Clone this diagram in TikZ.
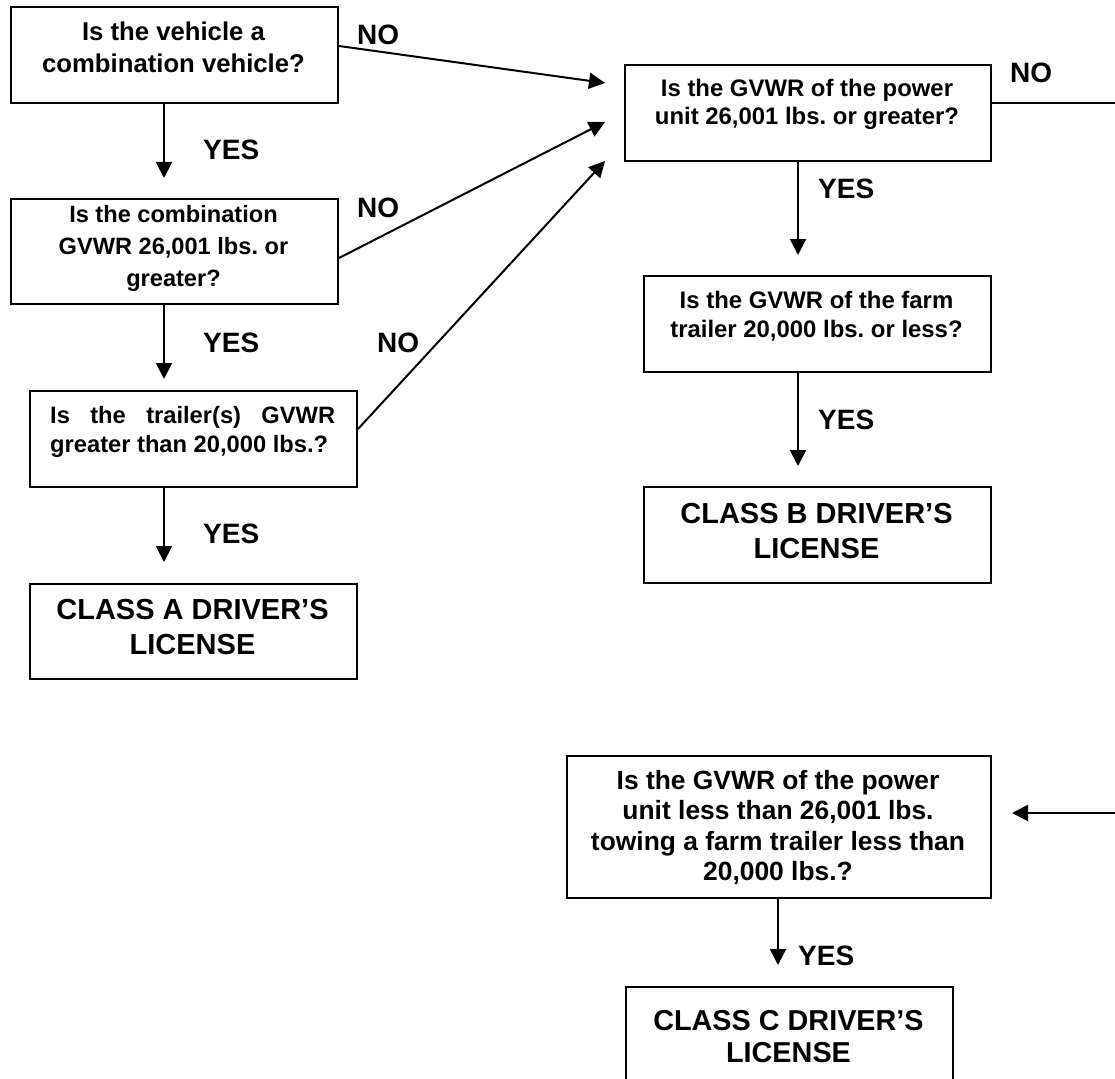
\documentclass[tikz,border=0pt]{standalone}
\usepackage{fontspec}
\setmainfont{Liberation Sans}
\usetikzlibrary{arrows.meta}
\begin{document}
\frenchspacing
\begin{tikzpicture}[x=1pt,y=-1pt,
  box/.style={draw, line width=2pt, inner sep=0pt, anchor=north west},
  txt/.style={inner sep=0pt, anchor=base, align=center},
  lbl/.style={inner sep=0pt, anchor=base west, font=\fontsize{28}{30}\selectfont\bfseries},
  arr/.style={line width=2pt, -{Triangle[length=16pt,width=16pt]}},
  ln/.style={line width=2pt}]
\clip (0,0) rectangle (1115,1078);
% boxes
\node[box, minimum width=327pt, minimum height=96pt]  (b1) at (10,6) {};
\node[box, minimum width=327pt, minimum height=105pt] (b2) at (10,198) {};
\node[box, minimum width=327pt, minimum height=96pt]  (b3) at (29,390) {};
\node[box, minimum width=327pt, minimum height=95pt]  (b4) at (29,583) {};
\node[box, minimum width=366pt, minimum height=96pt]  (b5) at (624,64) {};
\node[box, minimum width=347pt, minimum height=96pt]  (b6) at (643,275) {};
\node[box, minimum width=347pt, minimum height=96pt]  (b7) at (643,486) {};
\node[box, minimum width=424pt, minimum height=142pt] (b8) at (566,755) {};
\node[box, minimum width=327pt, minimum height=150pt] (b9) at (625,986) {};
% texts
\node[txt, font=\fontsize{25.7}{32}\selectfont\bfseries] (x1) at (173.5,73) {Is the vehicle a\\combination vehicle?};
\node[txt, font=\fontsize{23.6}{32}\selectfont\bfseries] (x2) at (173.5,286) {Is the combination\\GVWR 26,001 lbs. or\\greater?};
\node[txt, anchor=base west, align=left, font=\fontsize{23.7}{29}\selectfont\bfseries] (x3) at (50,452) {\makebox[285pt][s]{Is the trailer(s) GVWR}\\greater than 20,000 lbs.?};
\node[txt, font=\fontsize{29}{35}\selectfont\bfseries] (x4) at (192.5,654) {CLASS A DRIVER’S\\LICENSE};
\node[txt, font=\fontsize{23.9}{28}\selectfont\bfseries] (x5) at (807,125) {Is the GVWR of the power\\unit 26,001 lbs. or greater?};
\node[txt, font=\fontsize{23.9}{29}\selectfont\bfseries] (x6) at (816.5,337) {Is the GVWR of the farm\\trailer 20,000 lbs. or less?};
\node[txt, font=\fontsize{29}{35}\selectfont\bfseries] (x7) at (816.5,558) {CLASS B DRIVER’S\\LICENSE};
\node[txt, font=\fontsize{26.4}{30.5}\selectfont\bfseries] (x8) at (778,880.5) {Is the GVWR of the power\\unit less than 26,001 lbs.\\towing a farm trailer less than\\20,000 lbs.?};
\node[txt, font=\fontsize{28.8}{32}\selectfont\bfseries] (x9) at (788.5,1062) {CLASS C DRIVER’S\\LICENSE};
% helper coordinates
\coordinate (cL) at (164,0);
\coordinate (cR) at (798,0);
\coordinate (cC) at (778,0);
\coordinate (n1) at (605,83);
\coordinate (n2) at (605,122);
\coordinate (n3) at (605,161);
% vertical YES arrows
\draw[arr, shorten >=20pt] (b1.south -| cL) -- (b2.north -| cL);
\draw[arr, shorten >=11pt] (b2.south -| cL) -- (b3.north -| cL);
\draw[arr, shorten >=21pt] (b3.south -| cL) -- (b4.north -| cL);
\draw[arr, shorten >=20pt] (b5.south -| cR) -- (b6.north -| cR);
\draw[arr, shorten >=20pt] (b6.south -| cR) -- (b7.north -| cR);
\draw[arr, shorten >=21pt] (b8.south -| cC) -- (b9.north -| cC);
% NO arrows
\draw[arr] ([yshift=9pt]b1.east) -- (n1);
\draw[arr] ([yshift=-6.5pt]b2.east) -- (n2);
\draw[arr] ([yshift=10pt]b3.east) -- (n3);
\draw[arr] ([yshift=10pt]b5.east) -- ++(140,0) |- ([xshift=20pt,yshift=14pt]b8.east);
% labels
\node[lbl] (y1) at (203,160) {YES};
\node[lbl] (y2) at (203,352) {YES};
\node[lbl] (y3) at (203,543) {YES};
\node[lbl] (y5) at (818,198) {YES};
\node[lbl] (y6) at (818,429) {YES};
\node[lbl] (y8) at (798,965) {YES};
\node[lbl] (o1) at (357,45) {NO};
\node[lbl] (o2) at (357,217) {NO};
\node[lbl] (o3) at (377,352) {NO};
\node[lbl] (o5) at (1010,83) {NO};
\end{tikzpicture}
\end{document}
